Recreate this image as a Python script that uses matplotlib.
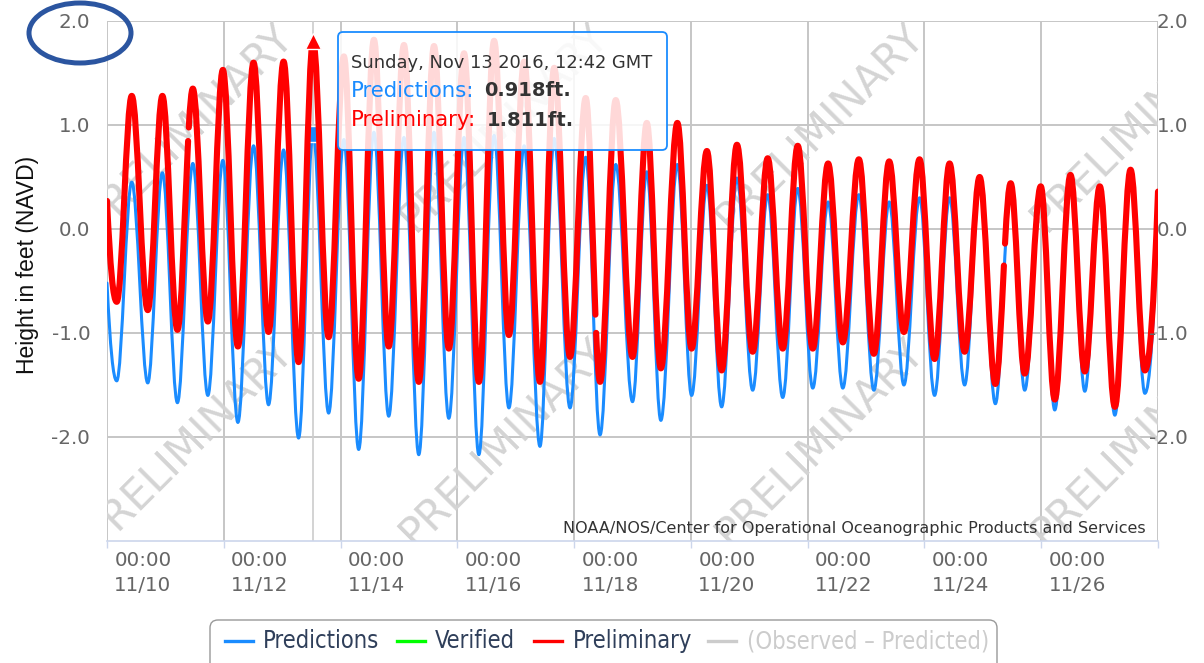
import numpy as np
import matplotlib
matplotlib.use('Agg')
import matplotlib.pyplot as plt
from matplotlib.path import Path
from matplotlib.patches import PathPatch, FancyBboxPatch, Ellipse
from matplotlib.bezier import BezierSegment, split_de_casteljau
from matplotlib.transforms import ScaledTranslation, IdentityTransform
from matplotlib.lines import Line2D
from matplotlib import font_manager

# turning points of the tide, hours since 2016-11-10 00:00 GMT
# (first and last entries are the edges of the window, not extremes)
tide_hours = [0.0, 4.0, 10.17, 16.75, 22.77, 28.94, 35.28, 41.45, 47.63, 53.80,
              60.23, 66.40, 72.58, 78.75, 84.70, 91.10, 97.36, 103.45, 109.71, 115.80,
              122.06, 128.15, 134.41, 140.50, 146.76, 152.85, 159.11, 165.20, 171.46, 177.96,
              183.81, 190.31, 196.77, 202.66, 209.12, 216.00, 221.88, 227.65, 234.44, 240.29,
              246.58, 252.64, 258.93, 265.40, 271.57, 277.75, 283.92, 290.10, 296.40, 302.45,
              309.04, 315.21, 321.51, 327.56, 333.98, 340.16, 346.33, 352.51, 358.68, 365.15,
              371.44, 377.21, 383.80, 389.56, 396.02, 401.91, 408.08, 414.26, 420.72, 426.60,
              432.0]
pred_ft = [-0.52, -1.46, 0.45, -1.48, 0.54, -1.67, 0.63, -1.60, 0.66, -1.86,
           0.80, -1.69, 0.76, -2.01, 0.918, -1.77, 0.86, -2.12, 0.93, -1.80,
           0.88, -2.17, 0.93, -1.82, 0.88, -2.17, 0.90, -1.72, 0.80, -2.09,
           0.87, -1.72, 0.69, -1.98, 0.62, -1.66, 0.55, -1.84, 0.62, -1.60,
           0.42, -1.71, 0.49, -1.55, 0.33, -1.62, 0.39, -1.53, 0.26, -1.53,
           0.33, -1.55, 0.26, -1.50, 0.30, -1.60, 0.30, -1.50, 0.42, -1.68,
           0.38, -1.55, 0.36, -1.74, 0.45, -1.56, 0.36, -1.79, 0.50, -1.58,
           0.22]
prelim_ft = [0.27, -0.70, 1.28, -0.78, 1.28, -0.97, 1.35, -0.89, 1.53, -1.13,
             1.60, -0.99, 1.61, -1.28, 1.811, -1.04, 1.66, -1.44, 1.82, -1.13,
             1.77, -1.47, 1.76, -1.15, 1.69, -1.47, 1.81, -1.02, 1.61, -1.47,
             1.55, -1.23, 1.26, -1.47, 1.24, -1.23, 1.02, -1.34, 1.02, -1.15,
             0.75, -1.36, 0.81, -1.18, 0.68, -1.15, 0.80, -1.15, 0.63, -1.09,
             0.67, -1.20, 0.65, -0.99, 0.67, -1.25, 0.63, -1.18, 0.50, -1.49,
             0.44, -1.39, 0.41, -1.64, 0.52, -1.37, 0.41, -1.71, 0.57, -1.36,
             0.36]
# missing stretches in the preliminary record (hours)
prelim_gaps = [(33.33, 33.62), (200.76, 201.06), (368.66, 369.12)]

hover_hour = 84.70
hover_pred = 0.918
hover_prelim = 1.811

tick_hours = list(range(0, 433, 48))
tick_labels = ['00:00\n11/10', '00:00\n11/12', '00:00\n11/14', '00:00\n11/16', '00:00\n11/18',
               '00:00\n11/20', '00:00\n11/22', '00:00\n11/24', '00:00\n11/26', '']
y_ticks = [-2, -1, 0, 1, 2]
y_labels = ['-2.0', '-1.0', '0.0', '1.0', '2.0']

BLUE = '#1a8cff'
RED = '#ff0000'
W, H = 1204, 663


def param_at(seg, tx):
    # bezier parameter where the curve reaches time tx
    bz = BezierSegment(seg)
    lo, hi = 0.0, 1.0
    for _ in range(40):
        mid = (lo + hi) / 2
        if bz.point_at_t(mid)[0] < tx:
            lo = mid
        else:
            hi = mid
    return lo


def tide_path(hours, heights, gaps=()):
    k = 0.36
    verts = [(hours[0], heights[0])]
    codes = [Path.MOVETO]
    n = len(hours)
    for i in range(n - 1):
        t0, h0, t1, h1 = hours[i], heights[i], hours[i + 1], heights[i + 1]
        dt = t1 - t0
        c1 = (t0 + k * dt, h0)
        c2 = (t1 - k * dt, h1)
        if i == 0:
            c1 = (t0 + dt / 3, h0 + (h1 - h0) * 2 / 3)
        if i == n - 2:
            c2 = (t1 - dt / 3, h1 - (h1 - h0) * 2 / 3)
        seg = np.array([(t0, h0), c1, c2, (t1, h1)])
        gap = [g for g in gaps if t0 < g[0] < t1]
        if gap:
            ga, gb = gap[0]
            left, _ = split_de_casteljau(seg, param_at(seg, ga))
            _, right = split_de_casteljau(seg, param_at(seg, gb))
            verts += [tuple(p) for p in left[1:]]
            codes += [Path.CURVE4] * 3
            verts.append(tuple(right[0]))
            codes.append(Path.MOVETO)
            verts += [tuple(p) for p in right[1:]]
            codes += [Path.CURVE4] * 3
        else:
            verts += [c1, c2, (t1, h1)]
            codes += [Path.CURVE4] * 3
    return Path(verts, codes)


# the legend uses a narrow face in the original; use one if installed
fonts = font_manager.fontManager.ttflist
if any(f.name == 'Liberation Sans Narrow' for f in fonts):
    legend_font = dict(family='Liberation Sans Narrow', fontsize=19)
elif any(f.name == 'DejaVu Sans' and f.stretch == 'condensed' for f in fonts):
    legend_font = dict(family='DejaVu Sans', fontstretch='condensed', fontsize=17)
else:
    legend_font = dict(family='Roboto', fontsize=16.5)

fig = plt.figure(figsize=(W / 100, H / 100), dpi=100)
ax = fig.add_axes([107 / W, 1 - 541 / H, 1051 / W, 520 / H])
ax.set_xlim(0, 432)
ax.set_ylim(-3, 2)

ax.set_xticks(tick_hours)
ax.set_xticklabels(tick_labels, linespacing=1.45)
ax.set_yticks(y_ticks)
ax.set_yticklabels(y_labels)
ax.grid(True, color='#c6c6c6', lw=1.4)
ax.set_axisbelow(True)
for side in ['left', 'right', 'top']:
    ax.spines[side].set_visible(False)
ax.spines['bottom'].set_color('#ccd6eb')
ax.spines['bottom'].set_linewidth(1.2)
ax.tick_params(axis='x', length=5, width=1, color='#ccd6eb', labelsize=14.3,
               labelcolor='#666666', pad=2)
ax.tick_params(axis='y', length=0, pad=12, labelsize=14.3, labelcolor='#666666')
# labels sit to the right of their tick, like the NOAA chart
for lbl in ax.get_xticklabels():
    lbl.set_transform(lbl.get_transform() + ScaledTranslation(0.36, 0, fig.dpi_scale_trans))

ax2 = ax.twinx()
ax2.set_ylim(-3, 2)
ax2.set_yticks(y_ticks)
ax2.set_yticklabels(y_labels)
ax2.tick_params(axis='y', length=0, pad=21.6, labelsize=14.3, labelcolor='#666666')
for lbl in ax2.get_yticklabels():
    lbl.set_horizontalalignment('right')
for side in ax2.spines:
    ax2.spines[side].set_visible(False)

# PRELIMINARY watermark grid
for px in [100, 415, 731, 1046]:
    for py in [233, 548]:
        ax.text((px - 107) / 1051, (541 - py) / 520, 'PRELIMINARY', transform=ax.transAxes,
                rotation=45, rotation_mode='anchor', ha='left', va='baseline',
                fontsize=30, color='#d4d4d4', clip_on=True, zorder=0.6)

ax.axvline(hover_hour, color='#cccccc', lw=1.2, zorder=0.7)

ax.add_patch(PathPatch(tide_path(tide_hours, pred_ft), fill=False, edgecolor=BLUE,
                       lw=2.2, capstyle='round', joinstyle='round', zorder=2))
ax.plot(hover_hour, hover_pred, marker='s', ms=12, color=BLUE, mec='white', mew=1, zorder=2.5)
ax.add_patch(PathPatch(tide_path(tide_hours, prelim_ft, prelim_gaps), fill=False, edgecolor=RED,
                       lw=4.4, capstyle='round', joinstyle='round', zorder=3))
ax.plot(hover_hour, hover_prelim, marker='^', ms=11, color=RED, mec='white', mew=1, zorder=4)

fig.text(1146 / W, 1 - 528 / H, 'NOAA/NOS/Center for Operational Oceanographic Products and Services',
         ha='right', va='center', fontsize=11.5, color='#333333')
fig.text(28 / W, 1 - 265 / H, 'Height in feet (NAVD)', rotation=90, ha='center', va='center',
         fontsize=16.5, family='Liberation Sans', color='#111111')

# tooltip
ident = IdentityTransform()
fig.add_artist(FancyBboxPatch((338, H - 150), 329, 118, boxstyle='round,pad=0,rounding_size=5',
                              transform=ident, facecolor='white', alpha=0.85, edgecolor='none',
                              zorder=10))
fig.add_artist(FancyBboxPatch((338, H - 150), 329, 118, boxstyle='round,pad=0,rounding_size=5',
                              transform=ident, facecolor='none', edgecolor=BLUE, lw=1.3, zorder=11))
fig.text(351 / W, 1 - 63 / H, 'Sunday, Nov 13 2016, 12:42 GMT', ha='left', va='center',
         fontsize=12.9, color='#333333', zorder=12)
fig.text(351 / W, 1 - 91 / H, 'Predictions:', ha='left', va='center', fontsize=15.3,
         color=BLUE, zorder=12)
fig.text(484 / W, 1 - 91 / H, f'{hover_pred:.3f}ft.', ha='left', va='center', fontsize=14,
         fontweight='bold', color='#333333', zorder=12)
fig.text(351 / W, 1 - 120 / H, 'Preliminary:', ha='left', va='center', fontsize=15.3,
         color=RED, zorder=12)
fig.text(487 / W, 1 - 120 / H, f'{hover_prelim:.3f}ft.', ha='left', va='center', fontsize=14,
         fontweight='bold', color='#333333', zorder=12)

# hand-drawn circle around the top label
fig.add_artist(Ellipse((80, H - 33), 102, 60, transform=ident, fill=False,
                       edgecolor='#2b55a0', lw=3.6, zorder=12))

# legend
fig.add_artist(FancyBboxPatch((210, -9), 787, 52, boxstyle='round,pad=0,rounding_size=8',
                              transform=ident, facecolor='white', edgecolor='#999999', lw=1.0))
legend_items = [('Predictions', BLUE, 225, 263, '#2f3f5a'),
                ('Verified', '#00ff00', 397, 435, '#2f3f5a'),
                ('Preliminary', RED, 534, 573, '#2f3f5a'),
                ('(Observed \u2013 Predicted)', '#cccccc', 708, 747, '#cccccc')]
for label, color, lx, tx, tcolor in legend_items:
    fig.add_artist(Line2D([lx / W, (lx + 28) / W], [1 - 641 / H] * 2, color=color, lw=2.4))
    fig.text(tx / W, 1 - 641 / H, label, ha='left', va='center', color=tcolor, **legend_font)

fig.savefig('out.png', dpi=100)
